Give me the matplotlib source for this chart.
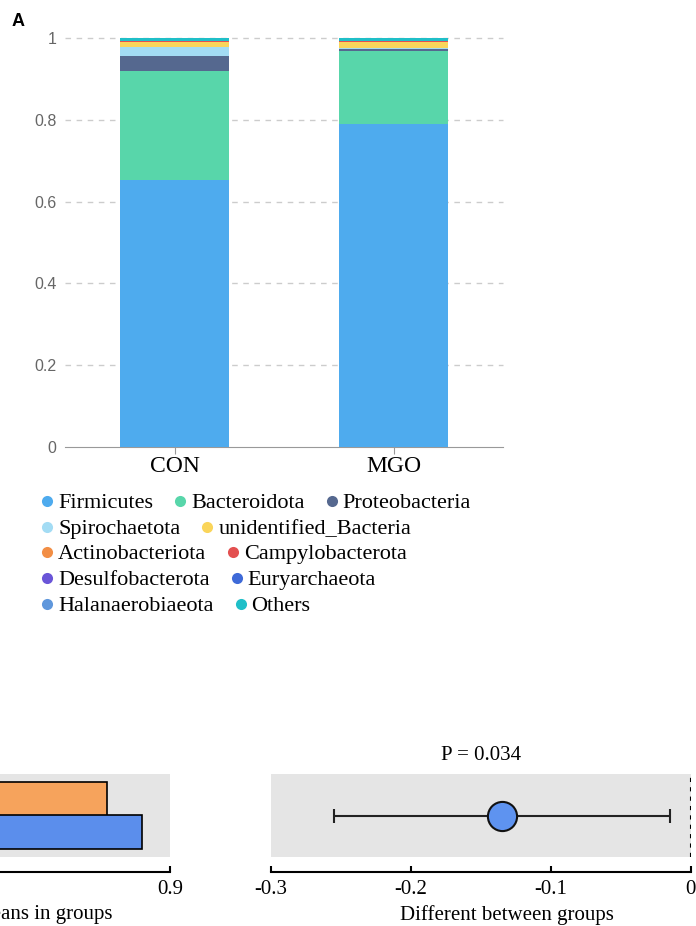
import numpy as np
import matplotlib
matplotlib.use("Agg")
import matplotlib.pyplot as plt
from matplotlib.lines import Line2D

# relative abundance of the top phyla in each group
groups = ["CON", "MGO"]
phyla = ["Firmicutes", "Bacteroidota", "Proteobacteria", "Spirochaetota",
         "unidentified_Bacteria", "Actinobacteriota", "Campylobacterota",
         "Desulfobacterota", "Euryarchaeota", "Halanaerobiaeota", "Others"]
con = [0.653, 0.268, 0.036, 0.021, 0.013, 0.001, 0.001, 0.0005, 0.0003, 0.0002, 0.006]
mgo = [0.790, 0.180, 0.005, 0.001, 0.015, 0.001, 0.001, 0.0005, 0.0003, 0.0002, 0.006]
phylum_colors = ["#4eabee", "#58d6aa", "#55688f", "#a3dcf4", "#fad55a",
                 "#f28e45", "#e35050", "#6a55d8", "#3e6ad8", "#5f97dc", "#1fbfc8"]
yticks = [0, 0.2, 0.4, 0.6, 0.8, 1]
ytick_labels = ["0", "0.2", "0.4", "0.6", "0.8", "1"]

# Firmicutes comparison (means + difference with 95% CI)
mean_con = 0.653
mean_mgo = 0.790
diff_mean = -0.135
diff_ci = (-0.255, -0.015)
p_value = 0.034
bar_colors = {"CON": "#f6a35c", "MGO": "#5b8eec"}

W, H = 696, 926
fig = plt.figure(figsize=(W / 100, H / 100), dpi=100)

serif = "Liberation Serif"
sans = "Liberation Sans"

# ---- stacked bars ----
ax = fig.add_axes([65 / W, 1 - 446.7 / H, 438 / W, 408.4 / H])
x = np.arange(len(groups))
bottom = np.zeros(len(groups))
for i, name in enumerate(phyla):
    vals = np.array([con[i], mgo[i]])
    ax.bar(x, vals, 0.5, bottom=bottom, color=phylum_colors[i], linewidth=0, zorder=3)
    bottom += vals

ax.set_xlim(-0.5, 1.5)
ax.set_ylim(0, 1)
ax.set_yticks(yticks)
ax.set_yticklabels(ytick_labels, family=sans, fontsize=11.5, color="#666666")
for y in yticks[1:]:
    ax.axhline(y, color="#cccccc", ls=(0, (4, 4)), lw=1, zorder=1, clip_on=False)
ax.tick_params(axis="y", length=0, pad=6)
ax.set_xticks(x)
ax.set_xticklabels(groups, family=serif, fontsize=17)
ax.tick_params(axis="x", length=5, color="#999999", pad=2)
for s in ["top", "right", "left"]:
    ax.spines[s].set_visible(False)
ax.spines["bottom"].set_color("#999999")

fig.text(12 / W, 1 - 13 / H, "A", family=sans, fontsize=13, weight="bold", va="top")

# ---- flowing legend, drawn in pixel coordinates ----
lax = fig.add_axes([0, 0, 1, 1])
lax.set_xlim(0, W)
lax.set_ylim(H, 0)
lax.axis("off")
renderer = fig.canvas.get_renderer()
cx, cy = 47, 501
max_x = 520
for name, col in zip(phyla, phylum_colors):
    t = lax.text(cx + 11, cy, name, family=serif, fontsize=16,
                 va="center_baseline", ha="left")
    w = t.get_window_extent(renderer).width
    if cx + 11 + w > max_x:
        cx, cy = 47, cy + 25.7
        t.set_position((cx + 11, cy))
    lax.add_line(Line2D([cx], [cy], marker="o", ms=8, color=col, mec="none"))
    cx = cx + 11 + w + 27

# ---- Firmicutes: mean proportions ----
bx = fig.add_axes([-60 / W, 1 - 857 / H, 230 / W, 83 / H])
# ---- Firmicutes: difference between groups ----
dx = fig.add_axes([271 / W, 1 - 857 / H, 419.7 / W, 83 / H])

# spine offsets reset the ticks, so set them up before any tick labels
for a in (bx, dx):
    a.set_facecolor("#e5e5e5")
    for s in ["top", "right", "left"]:
        a.spines[s].set_visible(False)
    a.spines["bottom"].set_position(("outward", 10.8))
    a.spines["bottom"].set_linewidth(1.5)
    a.tick_params(axis="x", direction="in", length=4, width=1.5, pad=6)
    a.set_yticks([])

bx.barh([1, 0], [mean_con, mean_mgo], height=1.0,
        color=[bar_colors["CON"], bar_colors["MGO"]], edgecolor="black", lw=1.2)
bx.set_xlim(0, 0.9)
bx.set_ylim(-0.74, 1.74)
bx.set_xticks([0.9])
bx.set_xticklabels(["0.9"], family=serif, fontsize=15)
bx.set_xlabel("Means in groups", family=serif, fontsize=15)
bx.xaxis.set_label_coords(0.446, -0.58)

dx.errorbar([diff_mean], [0], xerr=[[diff_mean - diff_ci[0]], [diff_ci[1] - diff_mean]],
            fmt="o", ms=21, mfc="#5e93f0", mec="#111111", mew=1.5,
            ecolor="#222222", elinewidth=1.5, capsize=5, capthick=1.5, zorder=3)
dx.axvline(0, color="black", ls=(0, (2, 2.5)), lw=1.5)
dx.set_xlim(-0.3, 0)
dx.set_ylim(-1, 1)
dx.set_xticks([-0.3, -0.2, -0.1, 0])
dx.set_xticklabels(["-0.3", "-0.2", "-0.1", "0"], family=serif, fontsize=15)
dx.set_xlabel("Different between groups", family=serif, fontsize=15)
dx.xaxis.set_label_coords(0.562, -0.58)
dx.set_title(f"P = {p_value}", family=serif, fontsize=15, pad=10)

fig.savefig("out.png", dpi=100)
